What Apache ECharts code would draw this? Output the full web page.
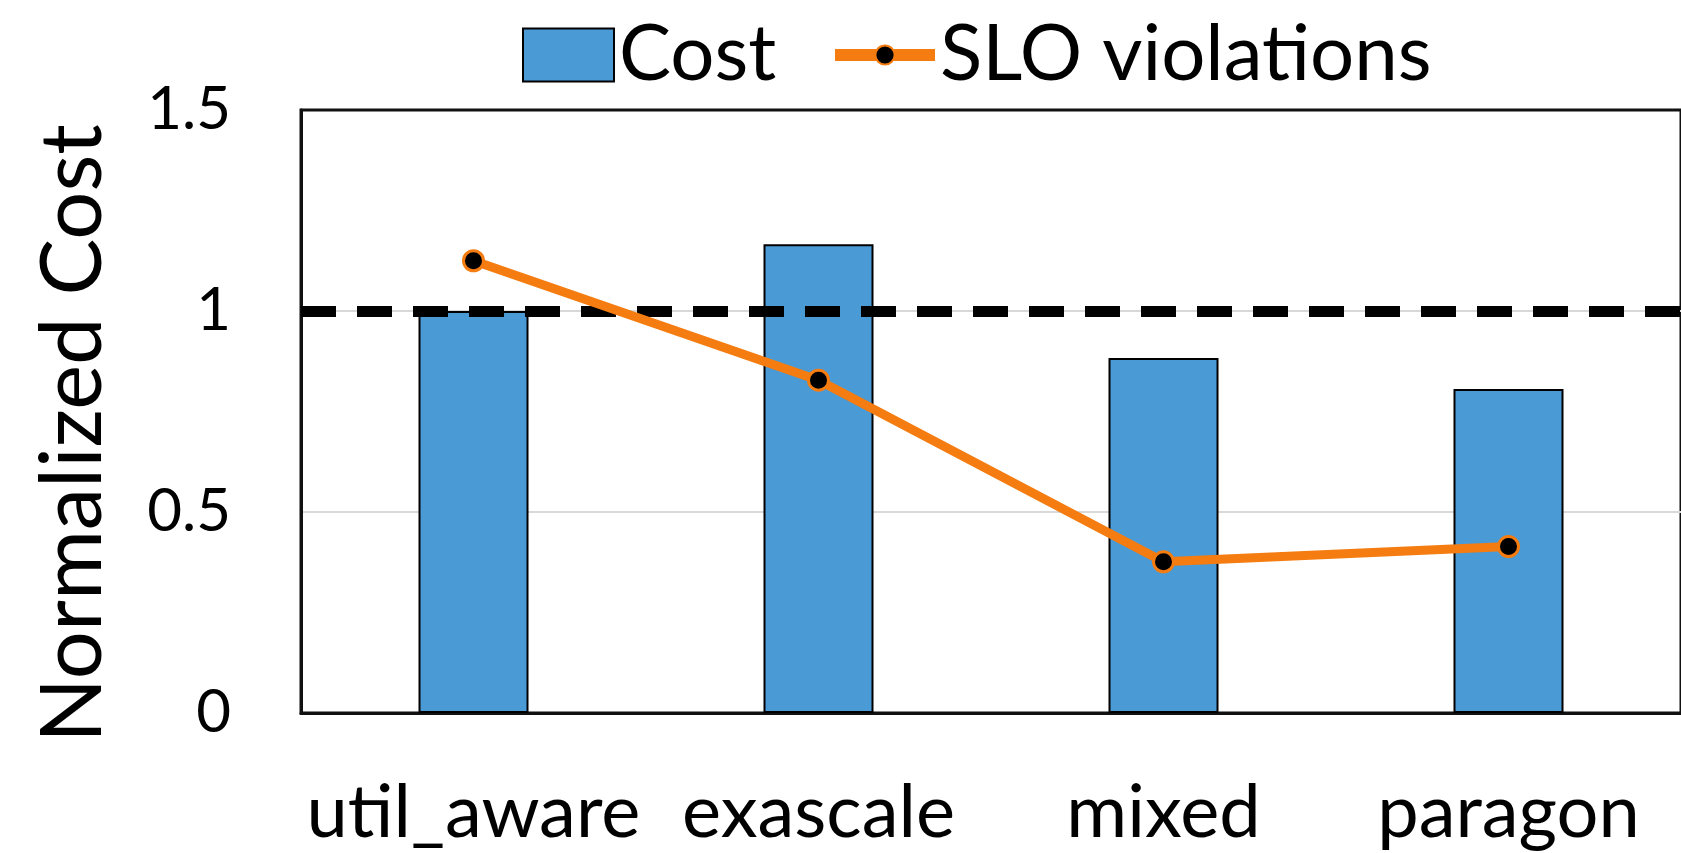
<!DOCTYPE html>
<html>
<head>
<meta charset="utf-8">
<title>Normalized Cost</title>
<script src="https://cdn.jsdelivr.net/npm/echarts@6/dist/echarts.min.js"></script>
<style>
    html, body {margin: 0; padding: 0; background: #fff;}
    #main {width: 1681px; height: 853px;}
</style>
</head>
<body>
<div id="main"></div>
<script>
const categories = ['util_aware', 'exascale', 'mixed', 'paragon'];
const costValues = [1.0, 1.166, 0.883, 0.806];
const sloValues = [1.125, 0.828, 0.376, 0.414];
const yTicks = [0, 0.5, 1, 1.5];
const baseline = 1;

const FONT = 'Lato';

function costChart(divUrl) {
    const myChart = echarts.init(document.getElementById(divUrl));
    const option = {
        animation: false,
        grid: {
            left: 301,
            right: -3,
            top: 110,
            bottom: 140,
            show: true,
            borderColor: '#111',
            borderWidth: 3
        },
        legend: [
            {
                data: ['Cost'],
                icon: 'rect',
                left: 522,
                top: 16,
                padding: 0,
                itemWidth: 91,
                itemHeight: 53,
                textStyle: {fontFamily: FONT, fontSize: 78, color: '#000'}
            },
            {
                data: ['SLO violations'],
                left: 829,
                top: 16,
                padding: 0,
                itemWidth: 100,
                itemHeight: 24,
                lineStyle: {width: 12},
                textStyle: {fontFamily: FONT, fontSize: 78, color: '#000'}
            }
        ],
        xAxis: {
            type: 'category',
            data: categories,
            axisTick: {show: false},
            axisLine: {lineStyle: {color: '#111', width: 3}},
            axisLabel: {
                interval: 0,
                fontFamily: FONT,
                fontSize: 74,
                color: '#000',
                margin: 63
            }
        },
        yAxis: {
            type: 'value',
            min: yTicks[0],
            max: yTicks[yTicks.length - 1],
            interval: 0.5,
            name: 'Normalized Cost',
            nameLocation: 'middle',
            nameRotate: 90,
            nameGap: 185,
            nameTextStyle: {
                fontFamily: FONT,
                fontSize: 85,
                color: '#000',
                padding: [0, 44, 0, 0]
            },
            axisLine: {show: true, lineStyle: {color: '#111', width: 3}},
            axisTick: {show: false},
            splitLine: {
                showMinLine: false,
                showMaxLine: false,
                lineStyle: {color: '#d9d9d9', width: 2}
            },
            axisLabel: {
                fontFamily: FONT,
                fontSize: 60,
                color: '#000',
                margin: 70
            }
        },
        series: [
            {
                name: 'Cost',
                type: 'bar',
                data: costValues,
                barWidth: 110,
                itemStyle: {
                    color: '#4A9AD6',
                    borderColor: '#000',
                    borderWidth: 2
                },
                markLine: {
                    silent: true,
                    symbol: 'none',
                    label: {show: false},
                    lineStyle: {
                        color: '#000',
                        width: 11,
                        type: [35, 21]
                    },
                    data: [{yAxis: baseline}]
                }
            },
            {
                name: 'SLO violations',
                type: 'line',
                data: sloValues,
                z: 5,
                symbol: 'circle',
                symbolSize: 20,
                lineStyle: {color: '#F47C10', width: 9},
                itemStyle: {
                    color: '#000',
                    borderColor: '#F47C10',
                    borderWidth: 3
                }
            }
        ]
    };

    myChart.setOption(option);
    return myChart;
}

costChart('main');
</script>
</body>
</html>
